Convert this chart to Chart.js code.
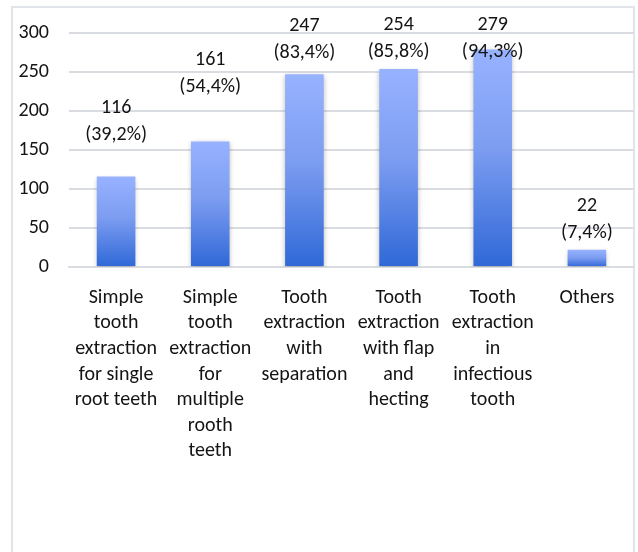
<!DOCTYPE html>
<html>
<head>
<meta charset="utf-8">
<script src="https://cdn.jsdelivr.net/npm/chart.js@4.4.1/dist/chart.umd.min.js"></script>
<style>
  html, body { margin: 0; padding: 0; background: #fff; }
  #wrap { position: relative; width: 638px; height: 552px; }
  #frame { position: absolute; left: 11px; top: 6px; width: 624px; height: 560px;
           border: 2px solid #e1e4e9; box-sizing: border-box; }
  canvas { position: absolute; left: 0; top: 0; }
</style>
</head>
<body>
<div id="wrap">
  <div id="frame"></div>
  <canvas id="c" width="638" height="552"></canvas>
</div>
<script>
// Tooth extraction procedures: counts and share of respondents
const categories = [
  ["Simple", "tooth", "extraction", "for single", "root teeth"],
  ["Simple", "tooth", "extraction", "for", "multiple", "rooth", "teeth"],
  ["Tooth", "extraction", "with", "separation"],
  ["Tooth", "extraction", "with flap", "and", "hecting"],
  ["Tooth", "extraction", "in", "infectious", "tooth"],
  ["Others"]
];
const counts = [116, 161, 247, 254, 279, 22];
const percents = ["39,2%", "54,4%", "83,4%", "85,8%", "94,3%", "7,4%"];
const yTicks = [0, 50, 100, 150, 200, 250, 300];

const FONT = "Carlito, Lato, 'Open Sans', sans-serif";
const TEXT = "#141414";

// Per-bar vertical gradient, light on top and deeper blue at the base
function barGradient(ctx) {
  const chart = ctx.chart;
  const area = chart.chartArea;
  if (!area || ctx.type !== 'data') return '#6a8ff0';
  const y = chart.scales.y;
  const top = y.getPixelForValue(ctx.parsed.y);
  const bottom = y.getPixelForValue(0);
  const g = chart.ctx.createLinearGradient(0, top, 0, bottom);
  g.addColorStop(0, '#97b2ff');
  g.addColorStop(0.45, '#7d9df1');
  g.addColorStop(1, '#2f68d7');
  return g;
}

// Soft drop shadow under the bars
const barShadow = {
  id: 'barShadow',
  beforeDatasetsDraw(chart) {
    const c = chart.ctx;
    c.save();
    c.shadowColor = 'rgba(0,0,0,0.28)';
    c.shadowBlur = 5;
    c.shadowOffsetX = 0;
    c.shadowOffsetY = 2;
  },
  afterDatasetsDraw(chart) { chart.ctx.restore(); }
};

// Two-line value labels: count, then percentage in brackets
const valueLabels = {
  id: 'valueLabels',
  afterDatasetsDraw(chart, args, opts) {
    const c = chart.ctx;
    const meta = chart.getDatasetMeta(0);
    c.save();
    c.font = opts.font;
    c.fillStyle = opts.color;
    c.textAlign = 'center';
    c.textBaseline = 'middle';
    meta.data.forEach((bar, i) => {
      const yLow = bar.y - opts.lift[i];
      c.fillText('(' + percents[i] + ')', bar.x, yLow);
      c.fillText(String(counts[i]), bar.x, yLow - opts.lineGap);
    });
    c.restore();
  }
};

new Chart(document.getElementById('c'), {
  type: 'bar',
  data: {
    labels: categories,
    datasets: [{
      data: counts,
      backgroundColor: barGradient,
      borderWidth: 0,
      barPercentage: 0.41,
      categoryPercentage: 1.0
    }]
  },
  options: {
    responsive: false,
    animation: false,
    layout: { padding: { top: 33, right: 4, left: 0, bottom: 0 } },
    plugins: {
      legend: { display: false },
      tooltip: { enabled: false },
      valueLabels: {
        font: "20px " + FONT,
        color: TEXT,
        lift: [42, 54, 21, 17, -3, 17],
        lineGap: 27
      }
    },
    scales: {
      x: {
        grid: { display: false, drawTicks: false },
        border: { display: true, color: '#d9dce1', width: 2 },
        ticks: {
          color: TEXT,
          font: { family: FONT, size: 20, lineHeight: 1.28 },
          padding: 18,
          maxRotation: 0,
          autoSkip: false
        },
        afterFit(scale) { scale.height = 285; }
      },
      y: {
        min: 0,
        max: 300,
        afterBuildTicks(scale) { scale.ticks = yTicks.map(v => ({ value: v })); },
        grid: { color: '#d9dce1', lineWidth: 2, drawTicks: false },
        border: { display: false },
        ticks: {
          color: TEXT,
          font: { family: FONT, size: 20 },
          padding: 20
        },
        afterFit(scale) { scale.width = 69; }
      }
    }
  },
  plugins: [barShadow, valueLabels]
});
</script>
</body>
</html>
